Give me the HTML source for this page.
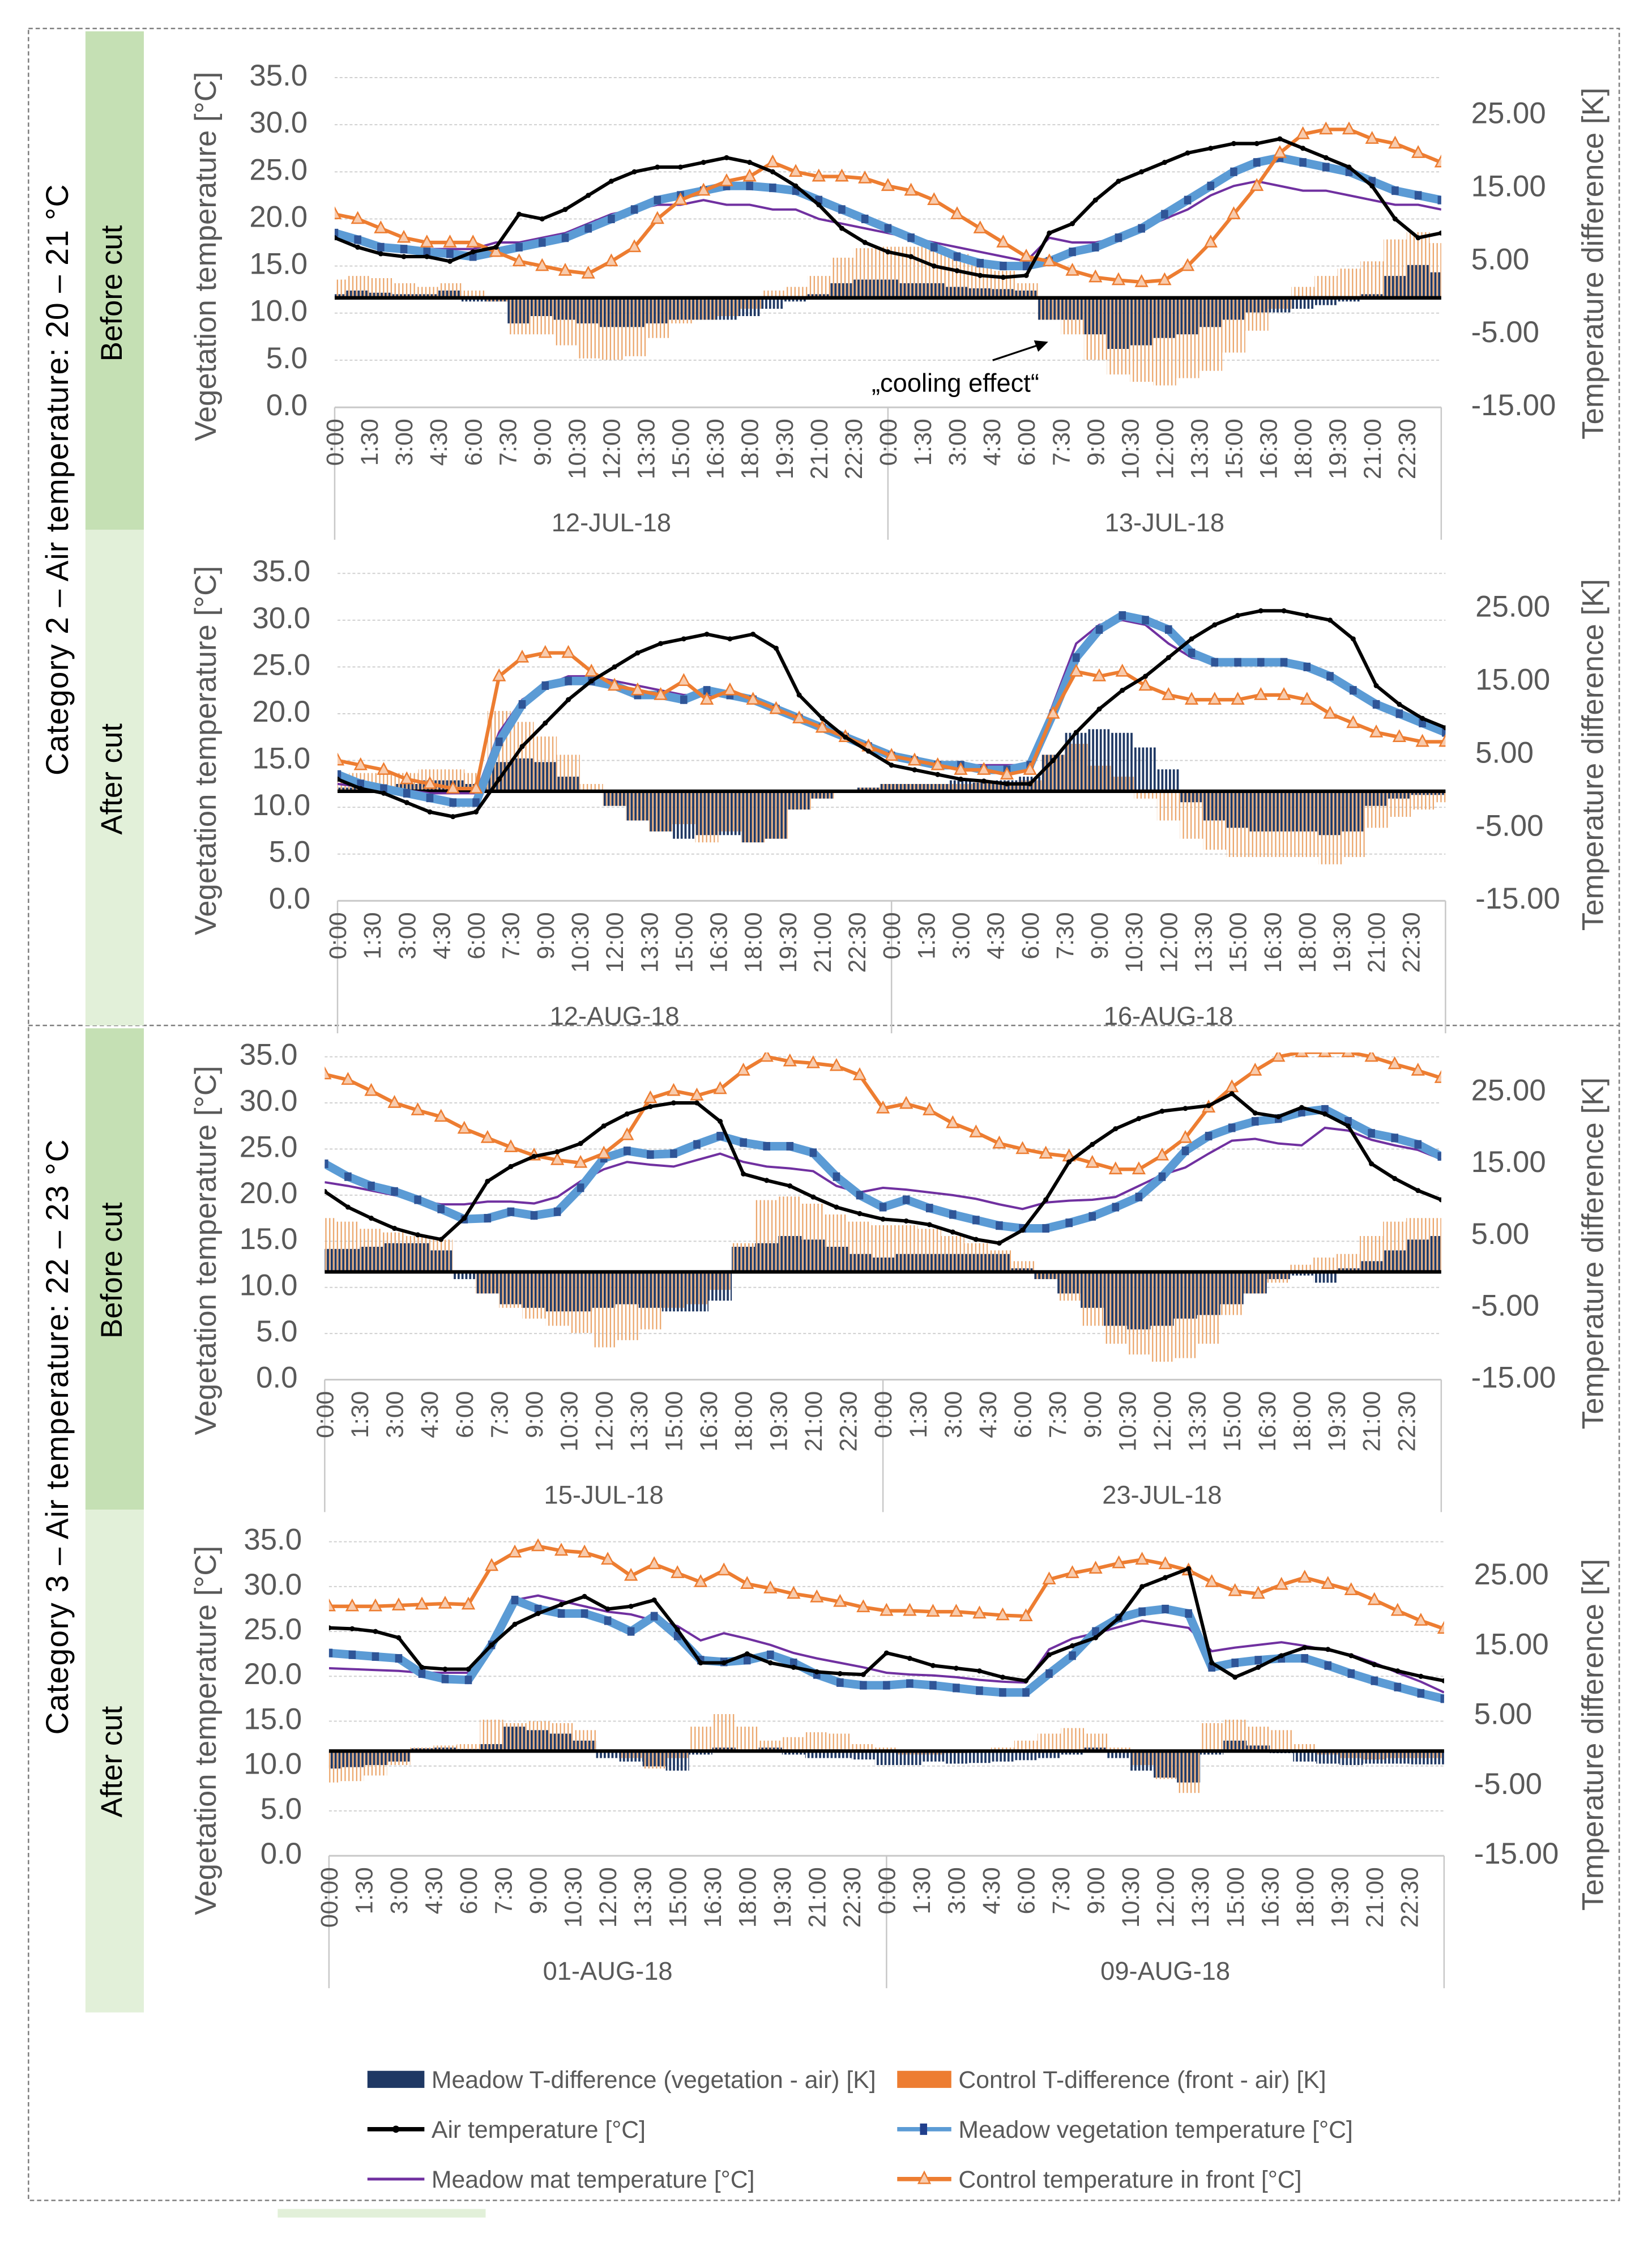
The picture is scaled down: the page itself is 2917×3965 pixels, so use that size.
<!DOCTYPE html>
<html><head><meta charset="utf-8"><title>Vegetation temperature chart</title>
<style>
html,body{margin:0;padding:0;background:#fff;}
svg{display:block;}
text{font-family:"Liberation Sans",sans-serif;fill:#595959;}
.narrow{font-family:"Liberation Sans Narrow","Liberation Sans",sans-serif;}
</style></head>
<body>
<svg id="chart" xmlns="http://www.w3.org/2000/svg" width="2917" height="3965" viewBox="0 0 1160 1577" preserveAspectRatio="none">
<defs>
<pattern id="navyStripe" patternUnits="userSpaceOnUse" width="2.7" height="10"><rect x="0" y="0" width="1.5" height="10" fill="#1f3864"/></pattern>
<pattern id="tanStripe" patternUnits="userSpaceOnUse" width="2.7" height="10"><rect x="1.6" y="0" width="0.9" height="10" fill="#eba56a"/></pattern>
</defs>
<rect x="0" y="0" width="1160" height="1577" fill="#fff"/>
<rect x="20" y="20" width="1117" height="1525" fill="none" stroke="#7f7f7f" stroke-width="1" stroke-dasharray="3 2"/>
<line x1="20" y1="720" x2="1137" y2="720" stroke="#7f7f7f" stroke-width="1" stroke-dasharray="3 2"/>
<rect x="60" y="22" width="41" height="350" fill="#c5e0b4"/>
<rect x="60" y="372" width="41" height="348" fill="#e2f0d9"/>
<rect x="60" y="722" width="41" height="338" fill="#c5e0b4"/>
<rect x="60" y="1060" width="41" height="353" fill="#e2f0d9"/>
<rect x="195" y="1551" width="146" height="6" fill="#e2f0d9"/>
<text x="42" y="337" transform="rotate(-90 42 337)" text-anchor="middle" dominant-baseline="middle" font-size="22" fill="#000" style="fill:#000" textLength="415">Category 2 – Air temperature: 20 – 21 °C</text>
<text x="42" y="1009" transform="rotate(-90 42 1009)" text-anchor="middle" dominant-baseline="middle" font-size="22" style="fill:#000" textLength="418">Category 3 – Air temperature: 22 – 23 °C</text>
<text x="80" y="206" transform="rotate(-90 80 206)" text-anchor="middle" dominant-baseline="middle" font-size="21" style="fill:#000">Before cut</text>
<text x="80" y="547" transform="rotate(-90 80 547)" text-anchor="middle" dominant-baseline="middle" font-size="21" style="fill:#000">After cut</text>
<text x="80" y="892" transform="rotate(-90 80 892)" text-anchor="middle" dominant-baseline="middle" font-size="21" style="fill:#000">Before cut</text>
<text x="80" y="1237" transform="rotate(-90 80 1237)" text-anchor="middle" dominant-baseline="middle" font-size="21" style="fill:#000">After cut</text>
<g id="panels"></g>
<text class="narrow" x="612" y="275" font-size="18" style="fill:#000">„cooling effect“</text>
<line x1="697" y1="253" x2="730" y2="242" stroke="#000" stroke-width="1.3"/>
<polygon points="736,240 726,239 729,247" fill="#000"/>
<g>
<rect x="258" y="1454" width="40" height="12" fill="#1f3864"/>
<text class="narrow" x="303" y="1466" font-size="17">Meadow T-difference (vegetation - air) [K]</text>
<rect x="630" y="1454" width="38" height="12" fill="#ed7d31"/>
<text class="narrow" x="673" y="1466" font-size="17">Control T-difference (front - air) [K]</text>
<line x1="258" y1="1495" x2="298" y2="1495" stroke="#000" stroke-width="3"/>
<circle cx="278" cy="1495" r="2.5" fill="#000"/>
<text class="narrow" x="303" y="1501" font-size="17">Air temperature [°C]</text>
<line x1="630" y1="1495" x2="668" y2="1495" stroke="#5b9bd5" stroke-width="3"/>
<rect x="646" y="1491" width="5" height="8" fill="#203f8c"/>
<text class="narrow" x="673" y="1501" font-size="17">Meadow vegetation temperature [°C]</text>
<line x1="258" y1="1530" x2="298" y2="1530" stroke="#7030a0" stroke-width="2"/>
<text class="narrow" x="303" y="1536" font-size="17">Meadow mat temperature [°C]</text>
<line x1="630" y1="1530" x2="668" y2="1530" stroke="#ed7d31" stroke-width="3"/>
<polygon points="649,1525 653,1533 645,1533" fill="#f8cbad" stroke="#ed7d31" stroke-width="1"/>
<text class="narrow" x="673" y="1536" font-size="17">Control temperature in front [°C]</text>
</g>
</svg>
<script>
// ---- categories / tick labels ----
const tickLabels = ['0:00','1:30','3:00','4:30','6:00','7:30','9:00','10:30','12:00','13:30','15:00','16:30','18:00','19:30','21:00','22:30'];
const tickLabelsP4Day1 = ['00:00','1:30','3:00','4:30','6:00','7:30','9:00','10:30','12:00','13:30','15:00','16:30','18:00','19:30','21:00','22:30'];
const leftTicks = [0,5,10,15,20,25,30,35];
const rightTicks = [-15,-5,5,15,25];
const p1Dates = ['12-JUL-18','13-JUL-18'];
const p2Dates = ['12-AUG-18','16-AUG-18'];
const p3Dates = ['15-JUL-18','23-JUL-18'];
const p4Dates = ['01-AUG-18','09-AUG-18'];

// ---- Panel 1 (hourly, 0..48 h) ----
const p1Air = [18,17,16.3,16,16,15.5,16.5,17,20.5,20,21,22.5,24,25,25.5,25.5,26,26.5,26,25,23.5,21.5,19,17.5,16.5,16,15,14.5,14,13.8,14,18.5,19.5,22,24,25,26,27,27.5,28,28,28.5,27.5,26.5,25.5,23.5,20,18,18.5];
const p1Veg = [18.5,17.8,17,16.8,16.5,16.3,16,16.5,17,17.5,18,19,20,21,22,22.5,23,23.5,23.5,23.3,23,22,21,20,19,18,17,16,15.3,15,15,15.5,16.5,17,18,19,20.5,22,23.5,25,26,26.5,26,25.5,25,24,23,22.5,22];
const p1Mat = [18,17.5,17,16.9,16.8,16.8,16.8,17.5,17.5,18,18.5,19.5,20.5,21,21.5,21.5,22,21.5,21.5,21,21,20,19.5,19,18.5,18,17.5,17,16.5,16,15.5,18,17.5,17.5,18,19,20,21,22.5,23.5,24,23.5,23,23,22.5,22,21.5,21.5,21];
const p1Ctrl = [20.5,20,19,18,17.5,17.5,17.5,16.5,15.5,15,14.5,14.2,15.5,17,20,22,23,24,24.5,26,25,24.5,24.5,24.3,23.5,23,22,20.5,19,17.5,16,15.5,14.5,13.8,13.5,13.3,13.5,15,17.5,20.5,23.5,27,29,29.5,29.5,28.5,28,27,26];
const p1MeadowDiff = [0.5,1,0.7,0.5,0.5,1,-0.5,-0.5,-3.5,-2.5,-3,-3.5,-4,-4,-3.5,-3,-3,-3,-2.5,-1.5,-0.5,0.5,2,2.5,2.5,2,2,1.5,1.3,1.2,1,-3,-3,-5,-7,-6.5,-5.5,-5,-4,-3,-2,-2,-1.5,-1,-0.5,0.5,3,4.5,3.5];
const p1CtrlDiff = [2.5,3,2.7,2,1.5,2,1,-0.5,-5,-5,-6.5,-8.3,-8.5,-8,-5.5,-3.5,-3,-2.5,-1.5,1,1.5,3,5.5,6.8,7,7,7,6,5,3.7,2,-3,-5,-8.5,-10.5,-11.5,-12,-11,-10,-7.5,-4.5,-1.5,1.5,3,4,5,8,9,7.5];

// ---- Panel 2 ----
const p2Air = [13,12,11.5,10.5,9.5,9,9.5,13,16.5,19,21.5,23.5,25,26.5,27.5,28,28.5,28,28.5,27,22,19.5,17.5,16,14.5,14,13.5,13,12.8,12.5,12.5,15,18,20.5,22.5,24,26,28,29.5,30.5,31,31,30.5,30,28,23,21,19.5,18.5];
const p2Veg = [13.5,12.5,12,11.5,11,10.5,10.5,17,21,23,23.5,23.5,23,22,22,21.5,22.5,22,21.5,20.5,19.5,18.5,17.5,16.5,15.5,15,14.5,14.5,14,14,14.5,20,26,29,30.5,30,29,26.5,25.5,25.5,25.5,25.5,25,24,22.5,21,20,19,18];
const p2Mat = [12.5,12.2,12,11.8,11.5,11.5,11.5,18,21.5,23,24,24,23.5,23,22.5,22,22,22,21.5,20.5,19.5,18.5,17.5,16.5,15.5,15,14.8,14.5,14.5,14.5,14.5,21,27.5,29.5,30,29.5,27.5,26,25.5,25.5,25.5,25.5,25,24,22.5,21,20,19,18];
const p2Ctrl = [15,14.5,14,13,12.5,12,12,24,26,26.5,26.5,24.5,23,22.5,22,23.5,21.5,22.5,21.5,20.5,19.5,18.5,17.5,16.5,15.5,15,14.5,14,14,13.5,14,20,24.5,24,24.5,23,22,21.5,21.5,21.5,22,22,21.5,20,19,18,17.5,17,17];
const p2MeadowDiff = [0.5,0.5,0.5,1,1.5,1.5,1,4,4.5,4,2,0,-2,-4,-5.5,-6.5,-6,-6,-7,-6.5,-2.5,-1,0,0.5,1,1,1,1.5,1.2,1.5,2,5,8,8.5,8,6,3,-1.5,-4,-5,-5.5,-5.5,-5.5,-6,-5.5,-2,-1,-0.5,-0.5];
const p2CtrlDiff = [2,2.5,2.5,2.5,3,3,2.5,11,9.5,7.5,5,1,-2,-4,-5.5,-4.5,-7,-5.5,-7,-6.5,-2.5,-1,0,0.5,1,1,1,1,1.2,1,1.5,5,6.5,3.5,2,-1,-4,-6.5,-8,-9,-9,-9,-9,-10,-9,-5,-3.5,-2.5,-1.5];

// ---- Panel 3 ----
const p3Air = [20.4,18.7,17.5,16.4,15.7,15.2,17.5,21.5,23.1,24.2,24.7,25.6,27.5,28.8,29.6,30,30,28,22.3,21.6,21,19.8,18.7,18,17.4,17.2,16.8,16,15.2,14.8,16.2,19.5,23.6,25.5,27.2,28.3,29.1,29.4,29.7,31,28.9,28.5,29.5,28.8,27.5,23.4,21.8,20.5,19.5];
const p3Veg = [23.4,22,21,20.4,19.5,18.5,17.4,17.5,18.2,17.8,18.2,20.8,24,24.8,24.4,24.5,25.5,26.4,25.7,25.3,25.3,24.6,22,20,18.7,19.5,18.6,17.9,17.3,16.7,16.4,16.4,17,17.7,18.7,19.8,22,24.8,26.4,27.3,28,28.3,29,29.3,28,26.7,26.2,25.5,24.2];
const p3Mat = [21.4,21,20.5,20,19.4,19,19,19.3,19.3,19.1,19.8,21.5,22.8,23.6,23.3,23.1,23.8,24.5,23.6,23.1,22.9,22.6,21,20.3,20.8,20.6,20.3,20,19.6,19,18.5,19.2,19.4,19.5,19.8,21,22.2,23,24.5,25.9,26.1,25.6,25.4,27.3,27,26,25.4,24.9,23.9];
const p3Ctrl = [33.1,32.5,31.3,30,29.2,28.5,27.2,26.2,25.2,24.3,23.8,23.5,24.5,26.5,30.5,31.3,30.8,31.5,33.5,35,34.5,34.3,34,33,29.4,29.9,29.2,27.8,26.8,25.6,25,24.5,24.2,23.5,22.8,22.8,24.3,26.2,29.5,31.7,33.5,35,35.5,35.5,35.5,35,34.2,33.5,32.7];
const p3MeadowDiff = [3.2,3.2,3.5,4,4,3,-1,-3,-4.5,-5,-5.5,-5.5,-5,-4.5,-5,-5.5,-5.5,-4,3.5,4,5,4.5,3.5,2.5,2,2.5,2.5,2.5,2.5,2.5,0.5,-1,-3,-5,-7.5,-8,-7.5,-6.5,-6,-4.5,-3,-1,-0.5,-1.5,0.5,1.5,3,4.5,5];
const p3CtrlDiff = [7.5,7,6,5.5,5,4.5,0,-3,-5,-6.5,-7.5,-8.5,-10.5,-9.5,-8,-5,-4.5,-2.5,4,10,10.5,9.5,8,7,6.5,6.5,6,5,4,3,1.5,-1,-4,-7.5,-10,-11.5,-12.5,-12,-10,-6,-3,-1.5,1,2,2.5,5,7,7.5,7.5];

// ---- Panel 4 ----
const p4Air = [25.4,25.3,25,24.3,21,20.8,20.8,23.5,25.8,27,28,28.9,27.5,27.8,28.5,25.2,21.5,21.5,22.5,21.5,21,20.5,20.3,20.2,22.6,22,21.2,20.9,20.6,19.9,19.5,22.4,23.4,24.3,26.5,30,31,32,21.5,19.9,21,22.3,23.2,23,22.3,21.3,20.6,20,19.5];
const p4Veg = [22.6,22.4,22.2,22,20.3,19.7,19.6,23.5,28.5,27.5,27,27,26.2,25,26.7,24.5,21.8,21.6,21.8,22.4,21.5,20.2,19.3,19,19,19.2,19,18.7,18.4,18.2,18.2,20.3,22.3,25,26.5,27.2,27.5,27,21,21.5,21.8,22,22,21.2,20.3,19.5,18.8,18.1,17.5];
const p4Mat = [20.9,20.8,20.7,20.6,20.4,20.4,20.4,24,28.5,29,28.4,27.8,27.2,26.9,26.2,25.6,24,24.8,24.2,23.5,22.6,22,21.5,21,20.4,20.2,20.1,19.9,19.6,19.4,19.3,23,24.2,24.8,25.5,26.2,25.8,25.4,22.8,23.2,23.5,23.8,23.4,22.9,22.4,21.5,20.4,19.4,18.2];
const p4Ctrl = [27.8,27.8,27.8,27.9,28,28.1,28,32.3,33.8,34.5,34,33.8,33,31.2,32.5,31.5,30.5,31.8,30.3,29.8,29.2,28.8,28.3,27.7,27.3,27.3,27.2,27.2,27,26.8,26.7,30.8,31.5,32,32.6,33,32.5,31.8,30.5,29.5,29.2,30.2,31,30.3,29.6,28.5,27.3,26.2,25.3];
const p4MeadowDiff = [-2.5,-2.3,-2,-1.5,0.4,0.5,0.3,1,3.5,3,2.5,1.5,-1,-1.5,-2.2,-2.8,-0.5,0.5,0.2,0.5,-0.5,-1,-1,-1.2,-2,-2,-1.5,-1.8,-1.7,-1.5,-1.3,-1,-0.5,0.5,-1,-2.8,-3.8,-4.5,-0.5,1.5,0.8,-0.3,-1.5,-1.8,-2,-1.8,-1.8,-1.9,-1.9];
const p4CtrlDiff = [-4.5,-4.3,-3.5,-2,0.5,0.8,1,4.5,4,4.3,4,3,0,-1,-2.5,-1,3.5,5.3,3.5,1.5,2,2.7,2.5,1,0.5,-0.5,-0.5,-0.3,-0.2,0.5,1.5,2.5,3.3,2.5,0.5,-2,-4,-6,4,4.5,3.5,3,1,-0.5,-1,-1.2,-1,-1,-1];

// ---- layout (positions only) ----
const layouts = [
  {id:'p1', left:235, right:1012, yTop:54.5, yBot:286, rTop:81, titleY:180, rTitleY:185},
  {id:'p2', left:237, right:1015, yTop:402.6, yBot:632.5, rTop:427.4, titleY:527, rTitleY:530},
  {id:'p3', left:228, right:1012, yTop:742, yBot:968.7, rTop:767, titleY:878, rTitleY:880},
  {id:'p4', left:231, right:1014, yTop:1082.5, yBot:1303, rTop:1107, titleY:1215, rTitleY:1218}
];
const panelData = [
  {air:p1Air, veg:p1Veg, mat:p1Mat, ctrl:p1Ctrl, md:p1MeadowDiff, cd:p1CtrlDiff, dates:p1Dates, first:tickLabels},
  {air:p2Air, veg:p2Veg, mat:p2Mat, ctrl:p2Ctrl, md:p2MeadowDiff, cd:p2CtrlDiff, dates:p2Dates, first:tickLabels},
  {air:p3Air, veg:p3Veg, mat:p3Mat, ctrl:p3Ctrl, md:p3MeadowDiff, cd:p3CtrlDiff, dates:p3Dates, first:tickLabels},
  {air:p4Air, veg:p4Veg, mat:p4Mat, ctrl:p4Ctrl, md:p4MeadowDiff, cd:p4CtrlDiff, dates:p4Dates, first:tickLabelsP4Day1}
];

const NS = 'http://www.w3.org/2000/svg';
function mk(tag, attrs, parent){
  const e = document.createElementNS(NS, tag);
  for (const k in attrs) e.setAttribute(k, attrs[k]);
  parent.appendChild(e);
  return e;
}
const root = document.getElementById('panels');

layouts.forEach((L, pi) => {
  const D = panelData[pi];
  const g = mk('g', {}, root);
  
  
  const n = D.air.length - 1;
  const xs = h => L.left + h * (L.right - L.left) / 48;
  const yT = v => L.yBot - v * (L.yBot - L.yTop) / 35;
  const kPer = (L.yBot - L.rTop) / 40;
  const yK = v => L.yBot - (v + 15) * kPer;
  const clipId = 'clip' + pi;
  const cp = mk('clipPath', {id: clipId}, g);
  mk('rect', {x: L.left, y: L.yTop - 3, width: L.right - L.left, height: L.yBot - L.yTop + 3}, cp);

  // gridlines + left ticks
  leftTicks.forEach(v => {
    if (v > 0) {
      const gl = mk('line', {x1: L.left, x2: L.right, y1: yT(v), y2: yT(v), stroke: '#d0d0d0', 'stroke-width': 0.8, 'stroke-dasharray': '2 1.5'}, g);
      
      
    }
    const t = mk('text', {x: L.left - 19, y: yT(v), 'text-anchor': 'end', 'dominant-baseline': 'middle', 'font-size': 21}, g);
    
    
    t.textContent = v.toFixed(1);
  });
  rightTicks.forEach(v => {
    const t = mk('text', {x: L.right + 21, y: yK(v), 'text-anchor': 'start', 'dominant-baseline': 'middle', 'font-size': 21}, g);
    
    
    t.textContent = v.toFixed(2);
  });
  const yt = mk('text', {x: 146, y: L.titleY, transform: 'rotate(-90 146 ' + L.titleY + ')', 'text-anchor': 'middle', 'dominant-baseline': 'middle', 'font-size': 21}, g);
  
  
  yt.textContent = 'Vegetation temperature [°C]';
  const rt = mk('text', {x: 1120, y: L.rTitleY, transform: 'rotate(-90 1120 ' + L.rTitleY + ')', 'text-anchor': 'middle', 'dominant-baseline': 'middle', 'font-size': 21}, g);
  
  
  rt.textContent = 'Temperature difference [K]';

  // x axis
  const ax = mk('line', {x1: L.left, x2: L.right, y1: L.yBot, y2: L.yBot, stroke: '#c8c8c8', 'stroke-width': 1.2}, g);
  
  
  [0, 24, 48].forEach(h => {
    const s = mk('line', {x1: xs(h), x2: xs(h), y1: L.yBot, y2: L.yBot + 93, stroke: '#c8c8c8', 'stroke-width': 1}, g);
    
    
  });
  [0, 1].forEach(d => {
    const labels = d === 0 ? D.first : tickLabels;
    labels.forEach((lab, j) => {
      const x = xs(d * 24 + j * 1.5) + 6;
      const y = L.yBot + 8;
      const t = mk('text', {x: x, y: y, transform: 'rotate(-90 ' + x + ' ' + y + ')', 'text-anchor': 'end', 'font-size': 17}, g);
      
      
      t.textContent = lab;
    });
    const dl = mk('text', {x: xs(d * 24 + 12), y: L.yBot + 87, 'text-anchor': 'middle', 'font-size': 18}, g);
    
    
    dl.textContent = D.dates[d];
  });

  // bars
  const slot = (L.right - L.left) / 48;
  const bars = mk('g', {'clip-path': 'url(#' + clipId + ')'}, g);
  
  
  D.cd.forEach((v, i) => {
    const y0 = yK(0), y1 = yK(v);
    const b = mk('rect', {x: xs(i) - slot / 2, y: Math.min(y0, y1), width: slot, height: Math.abs(y1 - y0), fill: 'url(#tanStripe)'}, bars);
    
    
  });
  D.md.forEach((v, i) => {
    const y0 = yK(0), y1 = yK(v);
    const b = mk('rect', {x: xs(i) - slot / 2, y: Math.min(y0, y1), width: slot, height: Math.abs(y1 - y0), fill: 'url(#navyStripe)'}, bars);
    
    
  });
  const zl = mk('line', {x1: L.left, x2: L.right, y1: yK(0), y2: yK(0), stroke: '#000', 'stroke-width': 2.5}, g);
  
  

  // lines
  const lines = mk('g', {'clip-path': 'url(#' + clipId + ')'}, g);
  
  
  const pts = arr => arr.map((v, i) => xs(i).toFixed(2) + ',' + yT(v).toFixed(2)).join(' ');

  const mat = mk('polyline', {points: pts(D.mat), fill: 'none', stroke: '#7030a0', 'stroke-width': 1.6}, lines);
  
  

  const vegBand = mk('polyline', {points: pts(D.veg), fill: 'none', stroke: '#5b9bd5', 'stroke-width': 6, 'stroke-linejoin': 'round'}, lines);
  
  
  D.veg.forEach((v, i) => {
    const m = mk('rect', {x: xs(i) - 2.5, y: yT(v) - 3, width: 5, height: 6, fill: '#2f5597'}, lines);
    
    
  });

  const ctrl = mk('polyline', {points: pts(D.ctrl), fill: 'none', stroke: '#ed7d31', 'stroke-width': 2.5, 'stroke-linejoin': 'round'}, lines);
  
  
  D.ctrl.forEach((v, i) => {
    const x = xs(i), y = yT(v);
    const m = mk('polygon', {points: x + ',' + (y - 4.5) + ' ' + (x + 4) + ',' + (y + 3) + ' ' + (x - 4) + ',' + (y + 3), fill: '#f8cbad', stroke: '#ed7d31', 'stroke-width': 1}, lines);
    
    
  });

  const air = mk('polyline', {points: pts(D.air), fill: 'none', stroke: '#000', 'stroke-width': 2.4, 'stroke-linejoin': 'round'}, lines);
  
  
  D.air.forEach((v, i) => {
    const m = mk('circle', {cx: xs(i), cy: yT(v), r: 1.8, fill: '#000'}, lines);
    
    
  });
});
</script>
</body></html>
